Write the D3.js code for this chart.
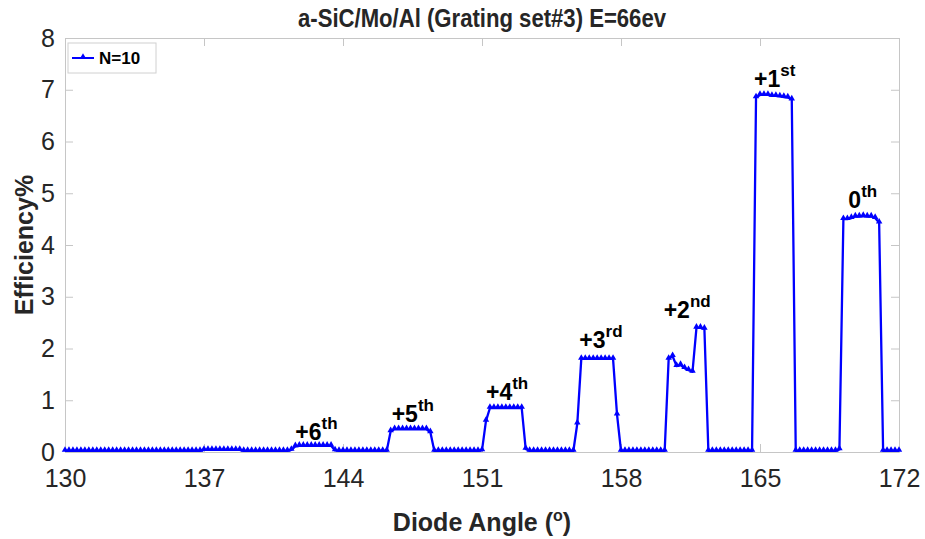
<!DOCTYPE html>
<html>
<head>
<meta charset="utf-8">
<script src="https://cdn.jsdelivr.net/npm/d3@7"></script>
<style>
  body { margin: 0; background: #fff; }
  svg { font-family: "Liberation Sans", Arial, sans-serif; }
</style>
</head>
<body>
<svg id="chart"></svg>
<script>
// diode angle samples (deg), 0.2 deg step
var angles = [
  130.0,130.2,130.4,130.6,130.8,131.0,131.2,131.4,131.6,131.8,
  132.0,132.2,132.4,132.6,132.8,133.0,133.2,133.4,133.6,133.8,
  134.0,134.2,134.4,134.6,134.8,135.0,135.2,135.4,135.6,135.8,
  136.0,136.2,136.4,136.6,136.8,137.0,137.2,137.4,137.6,137.8,
  138.0,138.2,138.4,138.6,138.8,139.0,139.2,139.4,139.6,139.8,
  140.0,140.2,140.4,140.6,140.8,141.0,141.2,141.4,141.6,141.8,
  142.0,142.2,142.4,142.6,142.8,143.0,143.2,143.4,143.6,143.8,
  144.0,144.2,144.4,144.6,144.8,145.0,145.2,145.4,145.6,145.8,
  146.0,146.2,146.4,146.6,146.8,147.0,147.2,147.4,147.6,147.8,
  148.0,148.2,148.4,148.6,148.8,149.0,149.2,149.4,149.6,149.8,
  150.0,150.2,150.4,150.6,150.8,151.0,151.2,151.4,151.6,151.8,
  152.0,152.2,152.4,152.6,152.8,153.0,153.2,153.4,153.6,153.8,
  154.0,154.2,154.4,154.6,154.8,155.0,155.2,155.4,155.6,155.8,
  156.0,156.2,156.4,156.6,156.8,157.0,157.2,157.4,157.6,157.8,
  158.0,158.2,158.4,158.6,158.8,159.0,159.2,159.4,159.6,159.8,
  160.0,160.2,160.4,160.6,160.8,161.0,161.2,161.4,161.6,161.8,
  162.0,162.2,162.4,162.6,162.8,163.0,163.2,163.4,163.6,163.8,
  164.0,164.2,164.4,164.6,164.8,165.0,165.2,165.4,165.6,165.8,
  166.0,166.2,166.4,166.6,166.8,167.0,167.2,167.4,167.6,167.8,
  168.0,168.2,168.4,168.6,168.8,169.0,169.2,169.4,169.6,169.8,
  170.0,170.2,170.4,170.6,170.8,171.0,171.2,171.4,171.6,171.8,
  172.0
];

// efficiency %, N=10
var efficiency = [
  0.02,0.02,0.02,0.02,0.02,0.02,0.02,0.02,0.02,0.02,
  0.02,0.02,0.02,0.02,0.02,0.02,0.02,0.02,0.02,0.02,
  0.02,0.02,0.02,0.02,0.02,0.02,0.02,0.02,0.02,0.02,
  0.02,0.02,0.02,0.02,0.02,0.04,0.04,0.04,0.04,0.04,
  0.04,0.04,0.04,0.04,0.04,0.02,0.02,0.02,0.02,0.02,
  0.02,0.02,0.02,0.02,0.02,0.02,0.02,0.04,0.11,0.12,
  0.12,0.12,0.12,0.12,0.12,0.12,0.12,0.12,0.03,0.02,
  0.02,0.02,0.02,0.02,0.02,0.02,0.02,0.02,0.02,0.02,
  0.02,0.02,0.40,0.44,0.44,0.44,0.44,0.44,0.44,0.44,
  0.44,0.44,0.38,0.02,0.02,0.02,0.02,0.02,0.02,0.02,
  0.02,0.02,0.02,0.02,0.02,0.03,0.60,0.85,0.85,0.85,
  0.85,0.85,0.85,0.85,0.85,0.85,0.06,0.02,0.02,0.02,
  0.02,0.02,0.02,0.02,0.02,0.02,0.02,0.02,0.02,0.55,
  1.80,1.80,1.80,1.80,1.80,1.80,1.80,1.80,1.80,0.72,
  0.02,0.02,0.02,0.02,0.02,0.02,0.02,0.02,0.02,0.02,
  0.02,0.02,1.80,1.85,1.66,1.68,1.62,1.58,1.55,2.40,
  2.40,2.38,0.02,0.02,0.02,0.02,0.02,0.02,0.02,0.02,
  0.02,0.02,0.02,0.02,6.85,6.90,6.90,6.90,6.88,6.88,
  6.87,6.86,6.85,6.81,0.02,0.02,0.02,0.02,0.02,0.02,
  0.02,0.02,0.02,0.02,0.02,0.05,4.50,4.50,4.52,4.55,
  4.55,4.56,4.55,4.55,4.52,4.43,0.02,0.02,0.02,0.02,
  0.02
];

var xTicks = [130, 137, 144, 151, 158, 165, 172];
var yTicks = [0, 1, 2, 3, 4, 5, 6, 7, 8];

// diffraction order labels: text, superscript, left angle, baseline efficiency
var orderNames = ["+6", "+5", "+4", "+3", "+2", "+1", "0"];
var orderSups  = ["th", "th", "th", "rd", "nd", "st", "th"];
var orderAngle = [141.6, 146.45, 151.2, 155.9, 160.15, 164.7, 169.45];
var orderEff   = [0.23, 0.58, 1.0, 2.01, 2.59, 7.06, 4.72];

var width = 925, height = 539;
var margin = {top: 38, right: 26, bottom: 87, left: 65};
var lineColor = "#0000ff";

var svg = d3.select("#chart")
    .attr("width", width)
    .attr("height", height);

var xScale = d3.scaleLinear()
    .domain([130, 172])
    .range([margin.left, width - margin.right]);

var yScale = d3.scaleLinear()
    .domain([0, 8])
    .range([height - margin.bottom, margin.top]);

var x0 = xScale.range()[0], x1 = xScale.range()[1];
var y0 = yScale.range()[0], y1 = yScale.range()[1];

// axes, ticks pointing inward like matlab
function styleAxis(g) {
  g.select(".domain").attr("stroke", "#c6c6c6").attr("stroke-width", 1);
  g.selectAll(".tick line").attr("stroke", "#c6c6c6");
  g.selectAll(".tick text").attr("fill", "#262626").attr("font-size", 25);
}

svg.append("g")
    .attr("transform", "translate(0," + y0 + ")")
    .call(d3.axisBottom(xScale).tickValues(xTicks).tickSizeInner(-8).tickSizeOuter(0).tickPadding(17))
    .call(styleAxis);

svg.append("g")
    .attr("transform", "translate(0," + y1 + ")")
    .call(d3.axisTop(xScale).tickValues(xTicks).tickSizeInner(-8).tickSizeOuter(0).tickFormat(""))
    .call(styleAxis);

svg.append("g")
    .attr("transform", "translate(" + x0 + ",0)")
    .call(d3.axisLeft(yScale).tickValues(yTicks).tickSizeInner(-8).tickSizeOuter(0).tickPadding(10))
    .call(styleAxis);

svg.append("g")
    .attr("transform", "translate(" + x1 + ",0)")
    .call(d3.axisRight(yScale).tickValues(yTicks).tickSizeInner(-8).tickSizeOuter(0).tickFormat(""))
    .call(styleAxis);

// series
var points = angles.map(function(a, i) { return [a, efficiency[i]]; });

var line = d3.line()
    .x(function(d) { return xScale(d[0]); })
    .y(function(d) { return yScale(d[1]); });

svg.append("path")
    .datum(points)
    .attr("fill", "none")
    .attr("stroke", lineColor)
    .attr("stroke-width", 2.3)
    .attr("stroke-linejoin", "round")
    .attr("d", line);

var tri = d3.symbol().type(d3.symbolTriangle).size(18);

svg.append("g").selectAll("path")
    .data(points)
    .enter()
    .append("path")
    .attr("d", tri)
    .attr("fill", lineColor)
    .attr("transform", function(d) {
      return "translate(" + xScale(d[0]) + "," + (yScale(d[1]) - 1) + ")";
    });

// order labels
orderNames.forEach(function(name, i) {
  var t = svg.append("text")
      .attr("x", xScale(orderAngle[i]))
      .attr("y", yScale(orderEff[i]))
      .attr("font-weight", "bold")
      .attr("font-size", 23)
      .attr("fill", "#000");
  t.append("tspan").text(name);
  t.append("tspan").attr("dy", -11).attr("font-size", 17).text(orderSups[i]);
});

// title
svg.append("text")
    .attr("x", (x0 + x1) / 2)
    .attr("y", 27)
    .attr("text-anchor", "middle")
    .attr("font-weight", "bold")
    .attr("font-size", 25)
    .attr("fill", "#262626")
    .attr("textLength", 368)
    .attr("lengthAdjust", "spacingAndGlyphs")
    .text("a-SiC/Mo/Al (Grating set#3) E=66ev");

// x label
var xl = svg.append("text")
    .attr("x", (x0 + x1) / 2)
    .attr("y", 531)
    .attr("text-anchor", "middle")
    .attr("font-weight", "bold")
    .attr("font-size", 25)
    .attr("fill", "#262626");
xl.append("tspan").text("Diode Angle (");
xl.append("tspan").attr("dy", -10).attr("font-size", 16).text("o");
xl.append("tspan").attr("dy", 10).text(")");

// y label
svg.append("text")
    .attr("transform", "translate(33," + ((y0 + y1) / 2) + ") rotate(-90)")
    .attr("text-anchor", "middle")
    .attr("font-weight", "bold")
    .attr("font-size", 25)
    .attr("fill", "#262626")
    .text("Efficiency%");

// legend
var legend = svg.append("g").attr("transform", "translate(68,43)");
legend.append("rect")
    .attr("width", 88)
    .attr("height", 30)
    .attr("fill", "#fff")
    .attr("stroke", "#d0d0d0");
legend.append("line")
    .attr("x1", 4).attr("x2", 26)
    .attr("y1", 15).attr("y2", 15)
    .attr("stroke", lineColor)
    .attr("stroke-width", 2);
legend.append("path")
    .attr("d", tri)
    .attr("fill", lineColor)
    .attr("transform", "translate(15,14)");
legend.append("text")
    .attr("x", 31)
    .attr("y", 21)
    .attr("font-weight", "bold")
    .attr("font-size", 17)
    .attr("fill", "#000")
    .text("N=10");
</script>
</body>
</html>
